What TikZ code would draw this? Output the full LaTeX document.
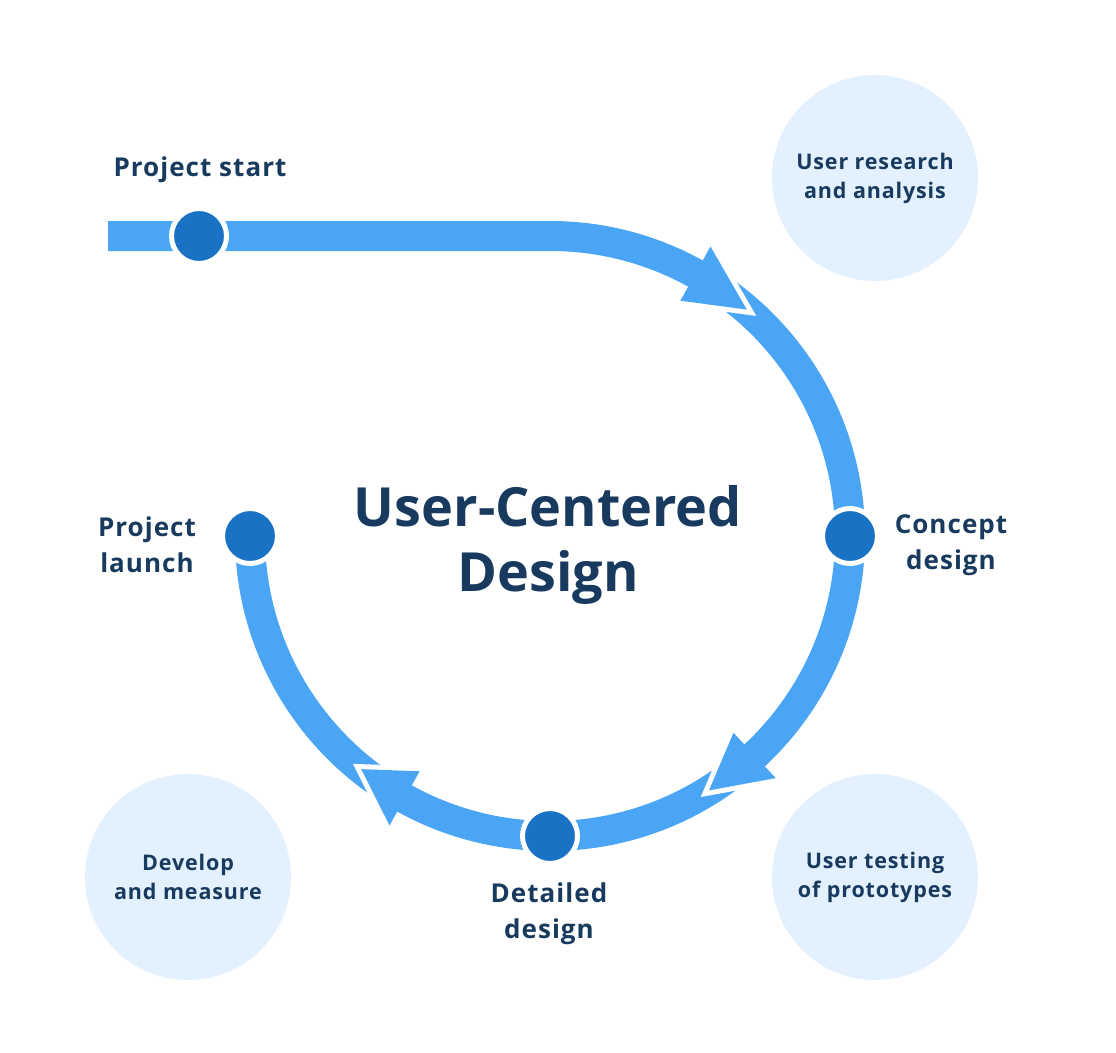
\documentclass[tikz,border=0pt]{standalone}
\usepackage{fontspec}
\setmainfont{Open Sans}
\usepackage{xcolor}

\definecolor{bandblue}{HTML}{4AA6F5}
\definecolor{dotblue}{HTML}{1A72C5}
\definecolor{navy}{HTML}{173A5E}
\definecolor{paleblue}{HTML}{E3F0FD}

\tikzset{
  band/.style={draw=bandblue, line width=30pt},
  stage/.style={circle, fill=dotblue, draw=white, line width=5pt, minimum size=55pt, inner sep=0pt},
  phase/.style={circle, fill=paleblue, minimum size=206pt, inner sep=0pt, text=navy, align=center,
    font=\bfseries\fontsize{21.5}{29}\selectfont\addfontfeatures{LetterSpace=4}},
  lbl/.style={text=navy, align=center, font=\bfseries\fontsize{26}{36}\selectfont\addfontfeatures{LetterSpace=4}},
}

% arrow head on the loop: #1 angle of the back, #2 angle of the tip
\newcommand{\headat}[2]{%
  \draw[white, line width=10pt, line join=miter] (#1:331) -- (#2:300) -- (#1:269);
  \fill[bandblue] (#1:331) -- (#2:300) -- (#1:269) -- cycle;
}

\begin{document}
\begin{tikzpicture}[x=1pt, y=1pt]
    \fill[white] (0,0) rectangle (1116,-1052);
    \useasboundingbox (0,0) rectangle (1116,-1052);
    % Fases
    \node[phase] (research) at (875,-178) {User research\\and analysis};
    \node[phase] (testing) at (875,-877) {User testing\\of prototypes};
    \node[phase] (develop) at (188,-877) {Develop\\and measure};
    % Percurso
    \draw[band] (108,-236) -- (550,-236) arc[start angle=90, end angle=-180, radius=300pt];
    \begin{scope}[shift={(550,-536)}]
        \headat{61}{49}
        \headat{-47}{-58}
        \headat{-119}{-129}
    \end{scope}
    % Etapas
    \node[stage] (start) at (199,-236) {};
    \node[stage] (concept) at (850,-536) {};
    \node[stage] (detailed) at (550,-836) {};
    \node[stage] (launch) at (250,-536) {};
    \node[lbl] (startlbl) at (200,-170) {Project start};
    \node[lbl] (conceptlbl) at (951,-545) {Concept\\design};
    \node[lbl] (launchlbl) at (147,-545) {Project\\launch};
    \node[lbl] (detailedlbl) at (549,-914) {Detailed\\design};
    % Título
    \node[text=navy, align=center, font=\bfseries\fontsize{54}{65}\selectfont] (title) at (548,-545) {User-Centered\\Design};
\end{tikzpicture}
\end{document}
